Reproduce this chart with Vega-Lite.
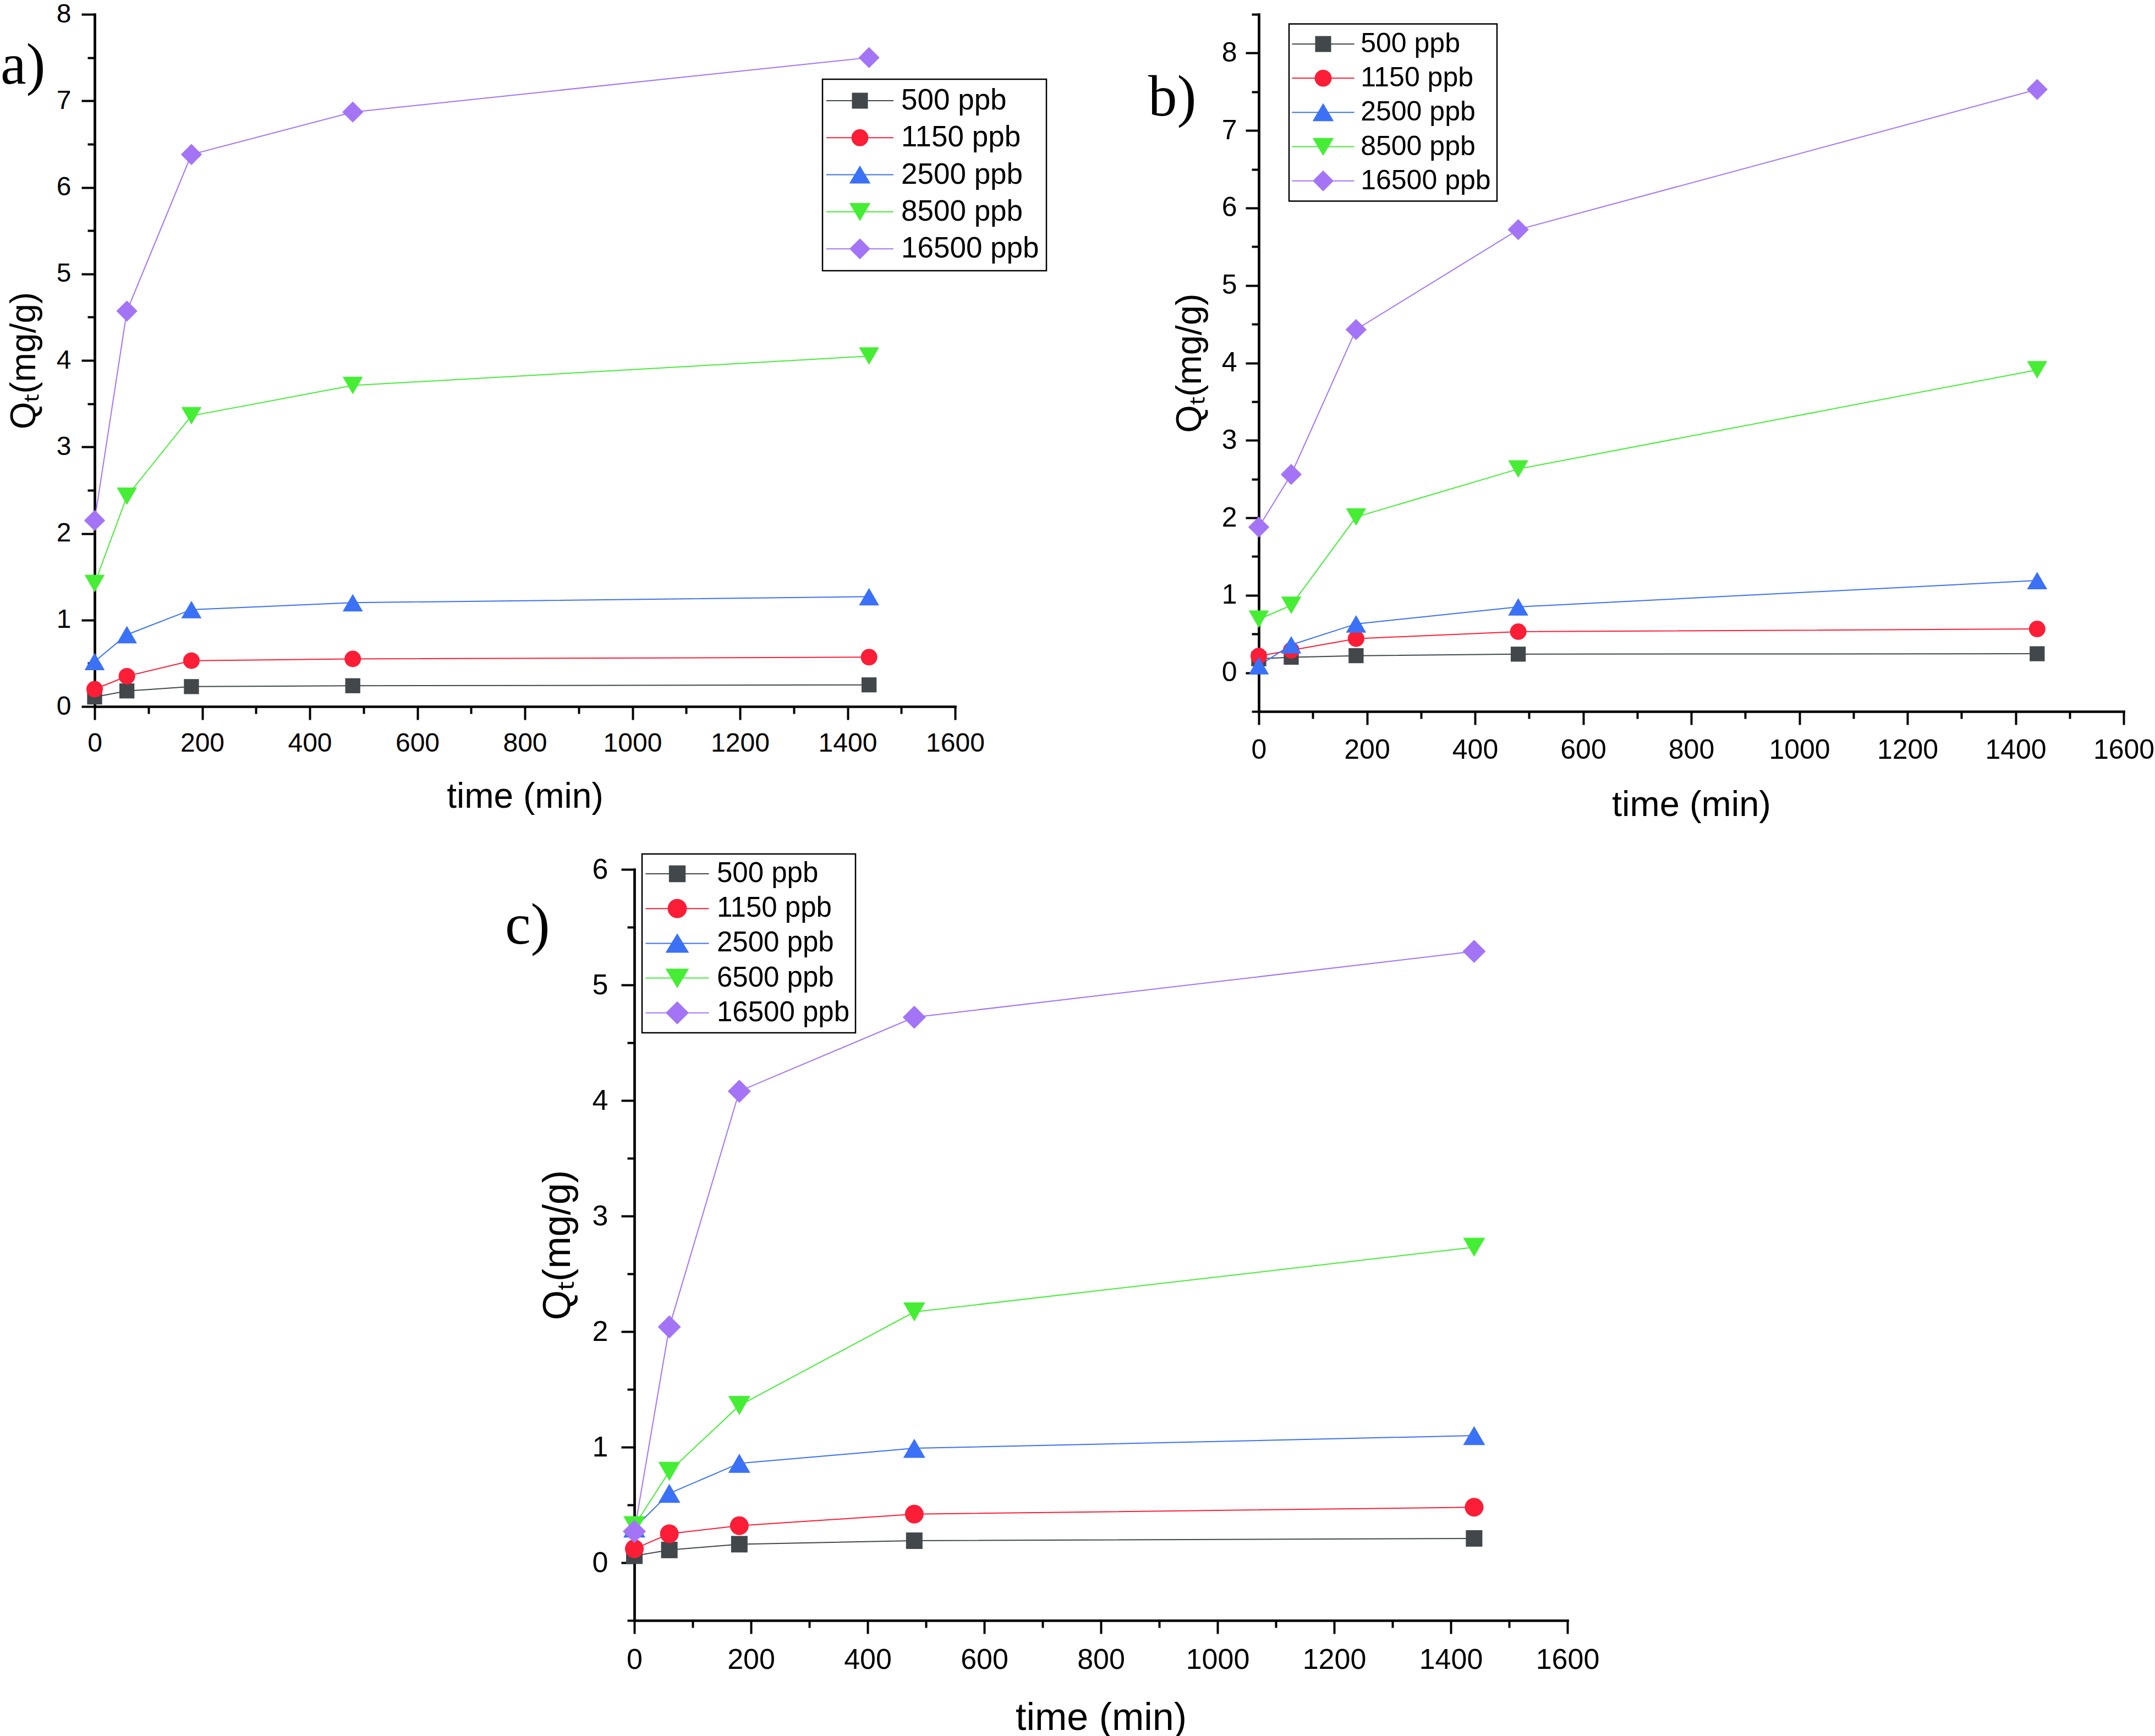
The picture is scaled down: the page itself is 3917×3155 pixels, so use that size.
{
  "$schema": "https://vega.github.io/schema/vega-lite/v6.json",
  "background": "white",
  "padding": {"left": 0, "top": 2, "right": 0, "bottom": 0},
  "datasets": {
    "a": [
      {"c": "500 ppb", "t": 0, "q": 0.11}, {"c": "500 ppb", "t": 60, "q": 0.18}, {"c": "500 ppb", "t": 180, "q": 0.23}, {"c": "500 ppb", "t": 480, "q": 0.24}, {"c": "500 ppb", "t": 1440, "q": 0.25},
      {"c": "1150 ppb", "t": 0, "q": 0.2}, {"c": "1150 ppb", "t": 60, "q": 0.35}, {"c": "1150 ppb", "t": 180, "q": 0.53}, {"c": "1150 ppb", "t": 480, "q": 0.55}, {"c": "1150 ppb", "t": 1440, "q": 0.57},
      {"c": "2500 ppb", "t": 0, "q": 0.52}, {"c": "2500 ppb", "t": 60, "q": 0.83}, {"c": "2500 ppb", "t": 180, "q": 1.12}, {"c": "2500 ppb", "t": 480, "q": 1.2}, {"c": "2500 ppb", "t": 1440, "q": 1.27},
      {"c": "8500 ppb", "t": 0, "q": 1.42}, {"c": "8500 ppb", "t": 60, "q": 2.43}, {"c": "8500 ppb", "t": 180, "q": 3.36}, {"c": "8500 ppb", "t": 480, "q": 3.71}, {"c": "8500 ppb", "t": 1440, "q": 4.05},
      {"c": "16500 ppb", "t": 0, "q": 2.15}, {"c": "16500 ppb", "t": 60, "q": 4.57}, {"c": "16500 ppb", "t": 180, "q": 6.38}, {"c": "16500 ppb", "t": 480, "q": 6.87}, {"c": "16500 ppb", "t": 1440, "q": 7.5}
    ],
    "b": [
      {"c": "500 ppb", "t": 0, "q": 0.18}, {"c": "500 ppb", "t": 60, "q": 0.2}, {"c": "500 ppb", "t": 180, "q": 0.22}, {"c": "500 ppb", "t": 480, "q": 0.24}, {"c": "500 ppb", "t": 1440, "q": 0.245},
      {"c": "1150 ppb", "t": 0, "q": 0.215}, {"c": "1150 ppb", "t": 60, "q": 0.29}, {"c": "1150 ppb", "t": 180, "q": 0.44}, {"c": "1150 ppb", "t": 480, "q": 0.53}, {"c": "1150 ppb", "t": 1440, "q": 0.565},
      {"c": "2500 ppb", "t": 0, "q": 0.09}, {"c": "2500 ppb", "t": 60, "q": 0.36}, {"c": "2500 ppb", "t": 180, "q": 0.63}, {"c": "2500 ppb", "t": 480, "q": 0.85}, {"c": "2500 ppb", "t": 1440, "q": 1.19},
      {"c": "8500 ppb", "t": 0, "q": 0.69}, {"c": "8500 ppb", "t": 60, "q": 0.87}, {"c": "8500 ppb", "t": 180, "q": 2.01}, {"c": "8500 ppb", "t": 480, "q": 2.63}, {"c": "8500 ppb", "t": 1440, "q": 3.91},
      {"c": "16500 ppb", "t": 0, "q": 1.88}, {"c": "16500 ppb", "t": 60, "q": 2.56}, {"c": "16500 ppb", "t": 180, "q": 4.43}, {"c": "16500 ppb", "t": 480, "q": 5.72}, {"c": "16500 ppb", "t": 1440, "q": 7.53}
    ],
    "c": [
      {"c": "500 ppb", "t": 0, "q": 0.06}, {"c": "500 ppb", "t": 60, "q": 0.11}, {"c": "500 ppb", "t": 180, "q": 0.16}, {"c": "500 ppb", "t": 480, "q": 0.19}, {"c": "500 ppb", "t": 1440, "q": 0.21},
      {"c": "1150 ppb", "t": 0, "q": 0.12}, {"c": "1150 ppb", "t": 60, "q": 0.25}, {"c": "1150 ppb", "t": 180, "q": 0.32}, {"c": "1150 ppb", "t": 480, "q": 0.42}, {"c": "1150 ppb", "t": 1440, "q": 0.48},
      {"c": "2500 ppb", "t": 0, "q": 0.3}, {"c": "2500 ppb", "t": 60, "q": 0.6}, {"c": "2500 ppb", "t": 180, "q": 0.86}, {"c": "2500 ppb", "t": 480, "q": 0.99}, {"c": "2500 ppb", "t": 1440, "q": 1.1},
      {"c": "6500 ppb", "t": 0, "q": 0.32}, {"c": "6500 ppb", "t": 60, "q": 0.79}, {"c": "6500 ppb", "t": 180, "q": 1.36}, {"c": "6500 ppb", "t": 480, "q": 2.17}, {"c": "6500 ppb", "t": 1440, "q": 2.73},
      {"c": "16500 ppb", "t": 0, "q": 0.27}, {"c": "16500 ppb", "t": 60, "q": 2.04}, {"c": "16500 ppb", "t": 180, "q": 4.08}, {"c": "16500 ppb", "t": 480, "q": 4.72}, {"c": "16500 ppb", "t": 1440, "q": 5.29}
    ]
  },
  "spacing": 55,
  "resolve": {"scale": {"color": "independent", "shape": "independent", "size": "independent", "stroke": "independent"}, "legend": {"color": "independent", "shape": "independent", "size": "independent", "stroke": "independent"}},
  "vconcat": [
    {
      "hconcat": [
        {
          "width": 1564,
          "height": 1258,
          "data": {"name": "a"},
          "layer": [
            {
              "mark": {"type": "line", "strokeWidth": 2},
              "encoding": {
                "x": {"field": "t", "type": "quantitative", "scale": {"domain": [0, 1600], "nice": false, "zero": false},
                  "axis": {"orient": "bottom", "values": [0, 200, 400, 600, 800, 1000, 1200, 1400, 1600], "format": "d", "title": "time (min)", "labelFontSize": 48, "labelPadding": 19, "titleFontSize": 64, "titlePadding": 41}},
                "y": {"field": "q", "type": "quantitative", "scale": {"domain": [0, 8], "nice": false, "zero": false},
                  "axis": {"orient": "left", "values": [0, 1, 2, 3, 4, 5, 6, 7, 8], "format": "d", "title": "Qₜ(mg/g)", "labelFontSize": 48, "labelPadding": 19, "titleFontSize": 64, "titlePadding": 26}},
                "color": {"field": "c", "type": "nominal", "scale": {"domain": ["500 ppb", "1150 ppb", "2500 ppb", "8500 ppb", "16500 ppb"], "range": ["#41474A", "#FC1D37", "#3A71F6", "#45EE35", "#A474F6"]}, "legend": null}
              }
            },
            {
              "mark": {"type": "point", "filled": true, "opacity": 1, "strokeWidth": 0},
              "encoding": {
                "x": {"field": "t", "type": "quantitative", "axis": {"orient": "bottom", "values": [100, 300, 500, 700, 900, 1100, 1300, 1500], "labels": false, "domain": false, "tickSize": 13, "title": null}},
                "y": {"field": "q", "type": "quantitative", "axis": {"orient": "left", "values": [0.5, 1.5, 2.5, 3.5, 4.5, 5.5, 6.5, 7.5], "labels": false, "domain": false, "tickSize": 13, "title": null}},
                "color": {"field": "c", "type": "nominal", "scale": {"domain": ["500 ppb", "1150 ppb", "2500 ppb", "8500 ppb", "16500 ppb"], "range": ["#41474A", "#FC1D37", "#3A71F6", "#45EE35", "#A474F6"]}, "legend": null},
                "shape": {"field": "c", "type": "nominal", "scale": {"domain": ["500 ppb", "1150 ppb", "2500 ppb", "8500 ppb", "16500 ppb"], "range": ["square", "circle", "triangle-up", "triangle-down", "diamond"]}, "legend": null},
                "size": {"field": "c", "type": "nominal", "scale": {"type": "ordinal", "domain": ["500 ppb", "1150 ppb", "2500 ppb", "8500 ppb", "16500 ppb"], "range": [745, 900, 1347, 1347, 1467]}, "legend": null}
              }
            },
            {
              "data": {"values": []},
              "mark": {"type": "point", "filled": true, "opacity": 1, "strokeWidth": 2},
              "encoding": {
                "color": {"field": "c", "type": "nominal", "scale": {"domain": ["500 ppb", "1150 ppb", "2500 ppb", "8500 ppb", "16500 ppb"], "range": ["#41474A", "#FC1D37", "#3A71F6", "#45EE35", "#A474F6"]},
                  "legend": {"title": null, "orient": "none", "legendX": 1323, "legendY": 118, "direction": "vertical", "padding": 12.5, "rowPadding": 13.3, "symbolOffset": 29, "labelOffset": 48.5, "labelFontSize": 53, "labelFont": "Liberation Sans", "labelColor": "black", "labelLimit": 2000, "strokeColor": "black", "fillColor": "white", "symbolSize": 729, "symbolStrokeWidth": 2, "symbolOpacity": 1}},
                "stroke": {"field": "c", "type": "nominal", "scale": {"domain": ["500 ppb", "1150 ppb", "2500 ppb", "8500 ppb", "16500 ppb"], "range": ["#41474A", "#FC1D37", "#3A71F6", "#45EE35", "#A474F6"]},
                  "legend": {"title": null, "orient": "none", "legendX": 1323, "legendY": 118, "direction": "vertical", "padding": 12.5, "rowPadding": 13.3, "symbolOffset": 29, "labelOffset": 48.5, "labelFontSize": 53, "labelFont": "Liberation Sans", "labelColor": "black", "labelLimit": 2000, "strokeColor": "black", "fillColor": "white", "symbolSize": 729, "symbolStrokeWidth": 2, "symbolOpacity": 1}},
                "shape": {"field": "c", "type": "nominal", "scale": {"domain": ["500 ppb", "1150 ppb", "2500 ppb", "8500 ppb", "16500 ppb"], "range": ["M-4.52,0H4.52M-1,-1H1V1H-1Z", "M-4.52,0H4.52M-1.07,0A1.07,1.07,0,1,1,1.07,0A1.07,1.07,0,1,1,-1.07,0Z", "M-4.52,0H4.52M0,-1.1L1.3,1.1L-1.3,1.1Z", "M-4.52,0H4.52M0,1.1L1.3,-1.1L-1.3,-1.1Z", "M-4.52,0H4.52M-1.3,0L0,-1.3L1.3,0L0,1.3Z"]},
                  "legend": {"title": null, "orient": "none", "legendX": 1323, "legendY": 118, "direction": "vertical", "padding": 12.5, "rowPadding": 13.3, "symbolOffset": 29, "labelOffset": 48.5, "labelFontSize": 53, "labelFont": "Liberation Sans", "labelColor": "black", "labelLimit": 2000, "strokeColor": "black", "fillColor": "white", "symbolSize": 729, "symbolStrokeWidth": 2, "symbolOpacity": 1}}
              }
            },
            {
              "data": {"values": [{"label": "a)"}]},
              "mark": {"type": "text", "font": "Liberation Serif", "fontSize": 105, "align": "left", "baseline": "alphabetic", "color": "black"},
              "encoding": {
                "x": {"datum": -175, "type": "quantitative", "axis": null},
                "y": {"datum": 7.2, "type": "quantitative", "axis": null},
                "text": {"field": "label"}
              }
            }
          ],
          "resolve": {"scale": {"color": "independent", "shape": "independent", "stroke": "independent", "size": "independent"}, "legend": {"color": "independent", "shape": "independent", "stroke": "independent", "size": "independent"}, "axis": {"x": "independent", "y": "independent"}}
        },
        {
          "width": 1572,
          "height": 1267,
          "data": {"name": "b"},
          "layer": [
            {
              "mark": {"type": "line", "strokeWidth": 2},
              "encoding": {
                "x": {"field": "t", "type": "quantitative", "scale": {"domain": [0, 1600], "nice": false, "zero": false},
                  "axis": {"orient": "bottom", "values": [0, 200, 400, 600, 800, 1000, 1200, 1400, 1600], "format": "d", "title": "time (min)", "labelFontSize": 50, "labelPadding": 21, "titleFontSize": 65, "titlePadding": 43}},
                "y": {"field": "q", "type": "quantitative", "scale": {"domain": [-0.5, 8.5], "nice": false, "zero": false},
                  "axis": {"orient": "left", "values": [0, 1, 2, 3, 4, 5, 6, 7, 8], "format": "d", "title": "Qₜ(mg/g)", "labelFontSize": 50, "labelPadding": 16, "titleFontSize": 65, "titlePadding": 24}},
                "color": {"field": "c", "type": "nominal", "scale": {"domain": ["500 ppb", "1150 ppb", "2500 ppb", "8500 ppb", "16500 ppb"], "range": ["#41474A", "#FC1D37", "#3A71F6", "#45EE35", "#A474F6"]}, "legend": null}
              }
            },
            {
              "mark": {"type": "point", "filled": true, "opacity": 1, "strokeWidth": 0},
              "encoding": {
                "x": {"field": "t", "type": "quantitative", "axis": {"orient": "bottom", "values": [100, 300, 500, 700, 900, 1100, 1300, 1500], "labels": false, "domain": false, "tickSize": 13, "title": null}},
                "y": {"field": "q", "type": "quantitative", "axis": {"orient": "left", "values": [-0.5, 0.5, 1.5, 2.5, 3.5, 4.5, 5.5, 6.5, 7.5, 8.5], "labels": false, "domain": false, "tickSize": 13, "title": null}},
                "color": {"field": "c", "type": "nominal", "scale": {"domain": ["500 ppb", "1150 ppb", "2500 ppb", "8500 ppb", "16500 ppb"], "range": ["#41474A", "#FC1D37", "#3A71F6", "#45EE35", "#A474F6"]}, "legend": null},
                "shape": {"field": "c", "type": "nominal", "scale": {"domain": ["500 ppb", "1150 ppb", "2500 ppb", "8500 ppb", "16500 ppb"], "range": ["square", "circle", "triangle-up", "triangle-down", "diamond"]}, "legend": null},
                "size": {"field": "c", "type": "nominal", "scale": {"type": "ordinal", "domain": ["500 ppb", "1150 ppb", "2500 ppb", "8500 ppb", "16500 ppb"], "range": [745, 900, 1347, 1347, 1467]}, "legend": null}
              }
            },
            {
              "data": {"values": []},
              "mark": {"type": "point", "filled": true, "opacity": 1, "strokeWidth": 2},
              "encoding": {
                "color": {"field": "c", "type": "nominal", "scale": {"domain": ["500 ppb", "1150 ppb", "2500 ppb", "8500 ppb", "16500 ppb"], "range": ["#41474A", "#FC1D37", "#3A71F6", "#45EE35", "#A474F6"]},
                  "legend": {"title": null, "orient": "none", "legendX": 55, "legendY": 17.5, "direction": "vertical", "padding": 11.4, "rowPadding": 12.2, "symbolOffset": 25.6, "labelOffset": 43.2, "labelFontSize": 50, "labelFont": "Liberation Sans", "labelColor": "black", "labelLimit": 2000, "strokeColor": "black", "fillColor": "white", "symbolSize": 729, "symbolStrokeWidth": 2, "symbolOpacity": 1}},
                "stroke": {"field": "c", "type": "nominal", "scale": {"domain": ["500 ppb", "1150 ppb", "2500 ppb", "8500 ppb", "16500 ppb"], "range": ["#41474A", "#FC1D37", "#3A71F6", "#45EE35", "#A474F6"]},
                  "legend": {"title": null, "orient": "none", "legendX": 55, "legendY": 17.5, "direction": "vertical", "padding": 11.4, "rowPadding": 12.2, "symbolOffset": 25.6, "labelOffset": 43.2, "labelFontSize": 50, "labelFont": "Liberation Sans", "labelColor": "black", "labelLimit": 2000, "strokeColor": "black", "fillColor": "white", "symbolSize": 729, "symbolStrokeWidth": 2, "symbolOpacity": 1}},
                "shape": {"field": "c", "type": "nominal", "scale": {"domain": ["500 ppb", "1150 ppb", "2500 ppb", "8500 ppb", "16500 ppb"], "range": ["M-4.19,0H4.19M-1,-1H1V1H-1Z", "M-4.19,0H4.19M-1.07,0A1.07,1.07,0,1,1,1.07,0A1.07,1.07,0,1,1,-1.07,0Z", "M-4.19,0H4.19M0,-1.1L1.3,1.1L-1.3,1.1Z", "M-4.19,0H4.19M0,1.1L1.3,-1.1L-1.3,-1.1Z", "M-4.19,0H4.19M-1.3,0L0,-1.3L1.3,0L0,1.3Z"]},
                  "legend": {"title": null, "orient": "none", "legendX": 55, "legendY": 17.5, "direction": "vertical", "padding": 11.4, "rowPadding": 12.2, "symbolOffset": 25.6, "labelOffset": 43.2, "labelFontSize": 50, "labelFont": "Liberation Sans", "labelColor": "black", "labelLimit": 2000, "strokeColor": "black", "fillColor": "white", "symbolSize": 729, "symbolStrokeWidth": 2, "symbolOpacity": 1}}
              }
            },
            {
              "data": {"values": [{"label": "b)"}]},
              "mark": {"type": "text", "font": "Liberation Serif", "fontSize": 105, "align": "left", "baseline": "alphabetic", "color": "black"},
              "encoding": {
                "x": {"datum": -204.5, "type": "quantitative", "axis": null},
                "y": {"datum": 7.19, "type": "quantitative", "axis": null},
                "text": {"field": "label"}
              }
            }
          ],
          "resolve": {"scale": {"color": "independent", "shape": "independent", "stroke": "independent", "size": "independent"}, "legend": {"color": "independent", "shape": "independent", "stroke": "independent", "size": "independent"}, "axis": {"x": "independent", "y": "independent"}}
        }
      ],
      "spacing": 552,
      "bounds": "flush",
      "resolve": {"scale": {"color": "independent", "shape": "independent", "size": "independent", "stroke": "independent"}, "legend": {"color": "independent", "shape": "independent", "size": "independent", "stroke": "independent"}}
    },
    {
      "hconcat": [
        {
          "width": 971,
          "height": 1,
          "data": {"values": []},
          "mark": {"type": "point", "opacity": 0}
        },
        {
          "width": 1696,
          "height": 1365,
          "data": {"name": "c"},
          "layer": [
            {
              "mark": {"type": "line", "strokeWidth": 2},
              "encoding": {
                "x": {"field": "t", "type": "quantitative", "scale": {"domain": [0, 1600], "nice": false, "zero": false},
                  "axis": {"orient": "bottom", "values": [0, 200, 400, 600, 800, 1000, 1200, 1400, 1600], "format": "d", "title": "time (min)", "labelFontSize": 52, "labelPadding": 22, "titleFontSize": 70, "titlePadding": 46}},
                "y": {"field": "q", "type": "quantitative", "scale": {"domain": [-0.5, 6], "nice": false, "zero": false},
                  "axis": {"orient": "left", "values": [0, 1, 2, 3, 4, 5, 6], "format": "d", "title": "Qₜ(mg/g)", "labelFontSize": 52, "labelPadding": 24, "titleFontSize": 70, "titlePadding": 26}},
                "color": {"field": "c", "type": "nominal", "scale": {"domain": ["500 ppb", "1150 ppb", "2500 ppb", "6500 ppb", "16500 ppb"], "range": ["#41474A", "#FC1D37", "#3A71F6", "#45EE35", "#A474F6"]}, "legend": null}
              }
            },
            {
              "mark": {"type": "point", "filled": true, "opacity": 1, "strokeWidth": 0},
              "encoding": {
                "x": {"field": "t", "type": "quantitative", "axis": {"orient": "bottom", "values": [100, 300, 500, 700, 900, 1100, 1300, 1500], "labels": false, "domain": false, "tickSize": 13, "title": null}},
                "y": {"field": "q", "type": "quantitative", "axis": {"orient": "left", "values": [-0.5, 0.5, 1.5, 2.5, 3.5, 4.5, 5.5], "labels": false, "domain": false, "tickSize": 13, "title": null}},
                "color": {"field": "c", "type": "nominal", "scale": {"domain": ["500 ppb", "1150 ppb", "2500 ppb", "6500 ppb", "16500 ppb"], "range": ["#41474A", "#FC1D37", "#3A71F6", "#45EE35", "#A474F6"]}, "legend": null},
                "shape": {"field": "c", "type": "nominal", "scale": {"domain": ["500 ppb", "1150 ppb", "2500 ppb", "6500 ppb", "16500 ppb"], "range": ["square", "circle", "triangle-up", "triangle-down", "diamond"]}, "legend": null},
                "size": {"field": "c", "type": "nominal", "scale": {"type": "ordinal", "domain": ["500 ppb", "1150 ppb", "2500 ppb", "6500 ppb", "16500 ppb"], "range": [900, 1156, 1600, 1600, 1764]}, "legend": null}
              }
            },
            {
              "data": {"values": []},
              "mark": {"type": "point", "filled": true, "opacity": 1, "strokeWidth": 2},
              "encoding": {
                "color": {"field": "c", "type": "nominal", "scale": {"domain": ["500 ppb", "1150 ppb", "2500 ppb", "6500 ppb", "16500 ppb"], "range": ["#41474A", "#FC1D37", "#3A71F6", "#45EE35", "#A474F6"]},
                  "legend": {"title": null, "orient": "none", "legendX": 14, "legendY": -28, "direction": "vertical", "padding": 10.5, "rowPadding": 11.2, "symbolOffset": 28, "labelOffset": 46.5, "labelFontSize": 51, "labelFont": "Liberation Sans", "labelColor": "black", "labelLimit": 2000, "strokeColor": "black", "fillColor": "white", "symbolSize": 729, "symbolStrokeWidth": 2, "symbolOpacity": 1}},
                "stroke": {"field": "c", "type": "nominal", "scale": {"domain": ["500 ppb", "1150 ppb", "2500 ppb", "6500 ppb", "16500 ppb"], "range": ["#41474A", "#FC1D37", "#3A71F6", "#45EE35", "#A474F6"]},
                  "legend": {"title": null, "orient": "none", "legendX": 14, "legendY": -28, "direction": "vertical", "padding": 10.5, "rowPadding": 11.2, "symbolOffset": 28, "labelOffset": 46.5, "labelFontSize": 51, "labelFont": "Liberation Sans", "labelColor": "black", "labelLimit": 2000, "strokeColor": "black", "fillColor": "white", "symbolSize": 729, "symbolStrokeWidth": 2, "symbolOpacity": 1}},
                "shape": {"field": "c", "type": "nominal", "scale": {"domain": ["500 ppb", "1150 ppb", "2500 ppb", "6500 ppb", "16500 ppb"], "range": ["M-4.26,0H4.26M-1.05,-1.05H1.05V1.05H-1.05Z", "M-4.26,0H4.26M-1.22,0A1.22,1.22,0,1,1,1.22,0A1.22,1.22,0,1,1,-1.22,0Z", "M-4.26,0H4.26M0,-1.2L1.45,1.2L-1.45,1.2Z", "M-4.26,0H4.26M0,1.2L1.45,-1.2L-1.45,-1.2Z", "M-4.26,0H4.26M-1.45,0L0,-1.45L1.45,0L0,1.45Z"]},
                  "legend": {"title": null, "orient": "none", "legendX": 14, "legendY": -28, "direction": "vertical", "padding": 10.5, "rowPadding": 11.2, "symbolOffset": 28, "labelOffset": 46.5, "labelFontSize": 51, "labelFont": "Liberation Sans", "labelColor": "black", "labelLimit": 2000, "strokeColor": "black", "fillColor": "white", "symbolSize": 729, "symbolStrokeWidth": 2, "symbolOpacity": 1}}
              }
            },
            {
              "data": {"values": [{"label": "c)"}]},
              "mark": {"type": "text", "font": "Liberation Serif", "fontSize": 105, "align": "left", "baseline": "alphabetic", "color": "black"},
              "encoding": {
                "x": {"datum": -221.7, "type": "quantitative", "axis": null},
                "y": {"datum": 5.357, "type": "quantitative", "axis": null},
                "text": {"field": "label"}
              }
            }
          ],
          "resolve": {"scale": {"color": "independent", "shape": "independent", "stroke": "independent", "size": "independent"}, "legend": {"color": "independent", "shape": "independent", "stroke": "independent", "size": "independent"}, "axis": {"x": "independent", "y": "independent"}}
        }
      ],
      "spacing": 10,
      "bounds": "flush",
      "resolve": {"scale": {"color": "independent", "shape": "independent", "size": "independent", "stroke": "independent"}, "legend": {"color": "independent", "shape": "independent", "size": "independent", "stroke": "independent"}}
    }
  ],
  "config": {
    "view": {"stroke": null},
    "legend": {"strokeWidth": 2.5},
    "axis": {"domainColor": "black", "domainWidth": 4.7, "domainCap": "square", "tickColor": "black", "tickWidth": 4, "tickSize": 24, "labelColor": "black", "titleColor": "black", "labelFont": "Liberation Sans", "titleFont": "Liberation Sans", "titleFontWeight": "normal", "grid": false, "labelFlush": false, "labelOverlap": false, "labelBound": false}
  }
}
